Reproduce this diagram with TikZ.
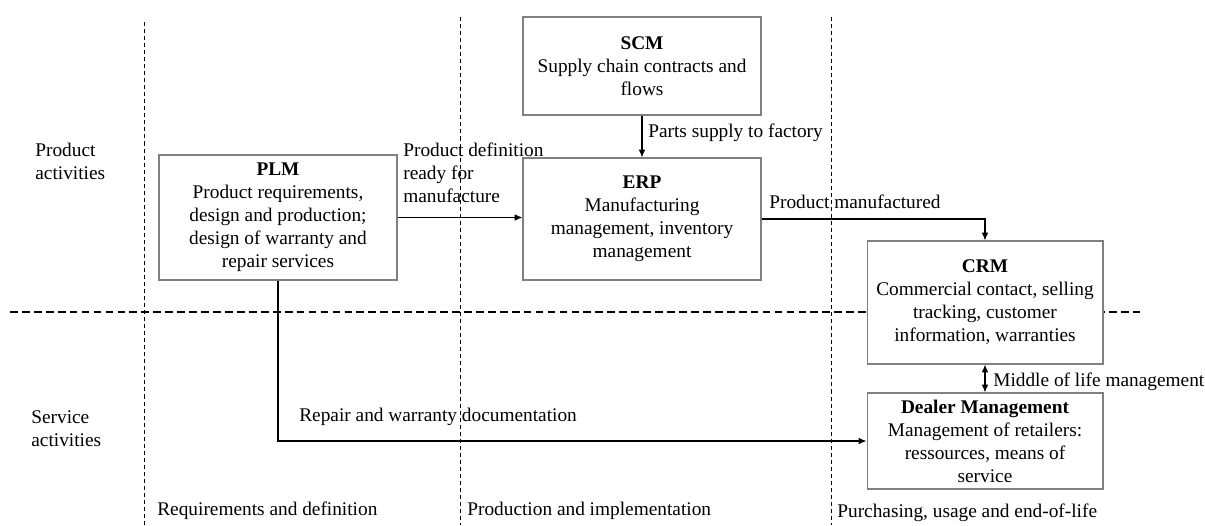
\documentclass[tikz,border=0pt]{standalone}
\usepackage{fontspec}
\setmainfont{Liberation Serif}
\usetikzlibrary{arrows.meta}
\tikzset{
  sysbox/.style={draw=black!50, fill=white, line width=0.6pt, align=center, inner sep=0pt},
  lbl/.style={anchor=west, align=left, inner sep=0pt},
  arr/.style={-{Latex[length=4.5pt,width=3.8pt]}, line width=0.6pt},
  darr/.style={{Latex[length=4.5pt,width=3.8pt]}-{Latex[length=4.5pt,width=3.8pt]}, line width=0.6pt},
  vsep/.style={dash pattern=on 2.3pt off 1.7pt, line width=0.5pt},
  hsep/.style={dash pattern=on 4.4pt off 2.4pt, line width=0.6pt}
}
\begin{document}
\begin{tikzpicture}[x=0.02cm, y=-0.02cm, every node/.style={font=\fontsize{11}{13.1}\selectfont}]
  \useasboundingbox (0,0) rectangle (1205,525);
  \draw[vsep] (144,22) -- (144,525);
  \draw[vsep] (460,17) -- (460,525);
  \draw[vsep] (831,17) -- (831,525);
  \draw[hsep] (10,312) -- (1140,312);
  \node[sysbox, minimum width=4.76cm, minimum height=2.5cm] (plm) at (278,217.5)
    {\textbf{PLM}\\Product requirements,\\design and production;\\design of warranty and\\repair services};
  \node[sysbox, minimum width=4.76cm, minimum height=1.96cm] (scm) at (642,66)
    {\textbf{SCM}\\Supply chain contracts and\\flows};
  \node[sysbox, minimum width=4.76cm, minimum height=2.44cm] (erp) at (642,219)
    {\textbf{ERP}\\Manufacturing\\management, inventory\\management};
  \node[sysbox, minimum width=4.72cm, minimum height=2.46cm] (crm) at (985,302.5)
    {\textbf{CRM}\\Commercial contact, selling\\tracking, customer\\information, warranties};
  \node[sysbox, minimum width=4.72cm, minimum height=1.92cm] (dlr) at (985,441)
    {\textbf{Dealer Management}\\Management of retailers:\\ressources, means of\\service};
  \draw[arr] (plm.east) -- (plm.east -| erp.west);
  \draw[arr] (scm) -- (erp);
  \draw[arr] (erp.east) -| (crm.north);
  \draw[darr] (crm) -- (dlr);
  \draw[arr] (plm.south) |- (dlr.west);
  \node[lbl] (pdef) at (403,173) {Product definition\\ready for\\manufacture};
  \node[lbl] (parts) at (648,133) {Parts supply to factory};
  \node[lbl] (pman) at (769,202) {Product manufactured};
  \node[lbl] (mol) at (993,382) {Middle of life management};
  \node[lbl] (rwd) at (299,417) {Repair and warranty documentation};
  \node[lbl] (prodact) at (35,161.5) {Product\\activities};
  \node[lbl] (servact) at (31,428.5) {Service\\activities};
  \node[lbl] (ph1) at (157,511) {Requirements and definition};
  \node[lbl] (ph2) at (467,511) {Production and implementation};
  \node[lbl] (ph3) at (837,513) {Purchasing, usage and end-of-life};
\end{tikzpicture}
\end{document}
